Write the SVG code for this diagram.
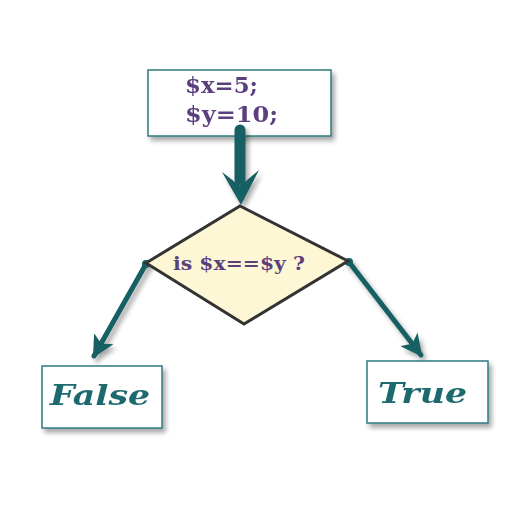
<svg xmlns="http://www.w3.org/2000/svg" width="513" height="513" viewBox="0 0 513 513">
<defs>
<filter id="sh" x="-20%" y="-20%" width="150%" height="160%">
<feGaussianBlur in="SourceAlpha" stdDeviation="2.5"/>
<feOffset dx="3" dy="4" result="b"/>
<feComponentTransfer><feFuncA type="linear" slope="0.35"/></feComponentTransfer>
<feMerge><feMergeNode/><feMergeNode in="SourceGraphic"/></feMerge>
</filter>
<marker id="ah" viewBox="0 0 10 10" refX="9" refY="5" markerWidth="4.4" markerHeight="4.4" orient="auto" markerUnits="strokeWidth">
<path d="M0,0 L10,5 L0,10 L2.5,5 Z" fill="#165e62"/>
</marker>
</defs>
<style>
.box{fill:#fff;stroke:#2e7a80;stroke-width:1.5}
.code{font-family:"DejaVu Serif","Liberation Serif",serif;font-weight:bold;fill:#5b3f7d}
.res{font-family:"DejaVu Serif","Liberation Serif",serif;font-weight:bold;font-style:italic;fill:#1f6a70;font-size:27px}
.conn{stroke:#165e62;fill:none;stroke-linecap:round}
</style>
<rect width="513" height="513" fill="#fff"/>
<g id="assign" filter="url(#sh)">
<rect class="box" x="148" y="70" width="183" height="66"/>
<text class="code" x="185" y="93" font-size="23" textLength="73" lengthAdjust="spacingAndGlyphs">$x=5;</text>
<text class="code" x="185" y="122" font-size="23" textLength="93" lengthAdjust="spacingAndGlyphs">$y=10;</text>
</g>
<g id="connectors" filter="url(#sh)">
<line class="conn" x1="240" y1="130" x2="240" y2="180" stroke-width="11"/>
<path d="M241,205 L222,172 L240,186 L259,170 Z" fill="#165e62"/>
<line class="conn" x1="146" y1="264" x2="94" y2="356" stroke-width="5" marker-end="url(#ah)"/>
<line class="conn" x1="349" y1="262" x2="421" y2="355" stroke-width="5" marker-end="url(#ah)"/>
<circle cx="146" cy="264" r="4" fill="#165e62"/>
<circle cx="349" cy="262" r="4" fill="#165e62"/>
</g>
<g id="decision">
<polygon points="240,206 348,261 244,324 146,263" fill="#fdf7d6" stroke="#333" stroke-width="3" stroke-linejoin="miter"/>
<text class="code" x="173" y="270" font-size="18" textLength="132" lengthAdjust="spacingAndGlyphs">is $x==$y ?</text>
</g>
<g id="false" filter="url(#sh)">
<rect class="box" x="42" y="366" width="120" height="62"/>
<text class="res" x="50" y="405" font-size="30" textLength="100" lengthAdjust="spacingAndGlyphs">False</text>
</g>
<g id="true" filter="url(#sh)">
<rect class="box" x="367" y="361" width="121" height="62"/>
<text class="res" x="378" y="403" font-size="30" textLength="89" lengthAdjust="spacingAndGlyphs">True</text>
</g>
</svg>
